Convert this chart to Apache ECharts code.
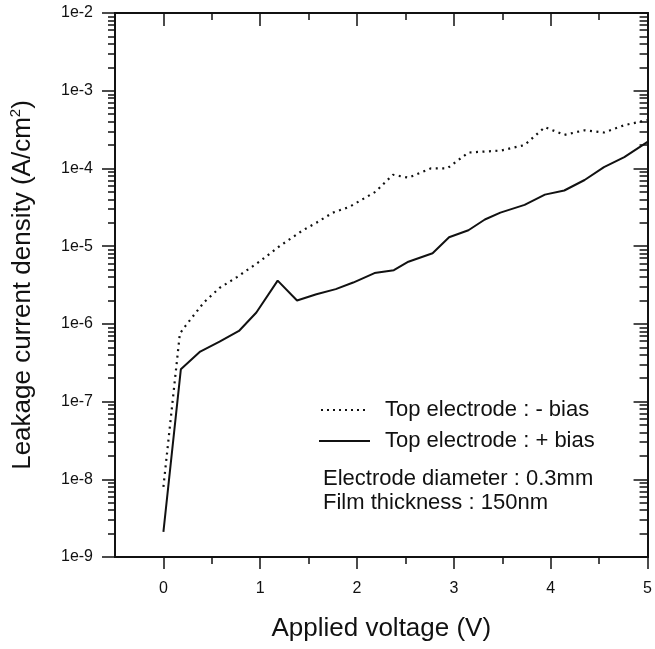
<!DOCTYPE html>
<html>
<head>
<meta charset="utf-8">
<script src="https://cdn.jsdelivr.net/npm/echarts@6/dist/echarts.min.js"></script>
<style>html,body{margin:0;padding:0;background:#fff;}#c{width:655px;height:649px;}</style>
</head>
<body>
<div id="c"></div>
<script>
// ---- data ----
var voltsMinus = [0, 0.17, 0.23, 0.42, 0.58, 0.76, 0.99, 1.2, 1.44, 1.58, 1.75, 1.92, 2.19, 2.37, 2.53, 2.76, 2.93, 3.15, 3.49, 3.73, 3.94, 4.14, 4.35, 4.55, 4.76, 5.0];
var jMinus = [8e-9, 7.5e-7, 9.5e-7, 1.9e-6, 2.9e-6, 4.0e-6, 6.3e-6, 1.0e-5, 1.6e-5, 2.0e-5, 2.7e-5, 3.2e-5, 5.0e-5, 8.3e-5, 7.6e-5, 1.0e-4, 1.0e-4, 1.6e-4, 1.7e-4, 2.0e-4, 3.4e-4, 2.7e-4, 3.1e-4, 2.9e-4, 3.6e-4, 4.2e-4];
var voltsPlus = [0, 0.18, 0.38, 0.58, 0.78, 0.96, 1.18, 1.38, 1.58, 1.78, 1.96, 2.18, 2.38, 2.53, 2.78, 2.95, 3.15, 3.32, 3.48, 3.73, 3.94, 4.14, 4.35, 4.55, 4.76, 5.0];
var jPlus = [2.1e-9, 2.6e-7, 4.4e-7, 5.9e-7, 8.1e-7, 1.4e-6, 3.6e-6, 2.0e-6, 2.4e-6, 2.8e-6, 3.4e-6, 4.5e-6, 4.9e-6, 6.3e-6, 8.1e-6, 1.3e-5, 1.6e-5, 2.2e-5, 2.7e-5, 3.4e-5, 4.6e-5, 5.2e-5, 7.1e-5, 1.04e-4, 1.4e-4, 2.2e-4];

var seriesNames = ['Top electrode : - bias', 'Top electrode : + bias'];
var noteLines = ['Electrode diameter : 0.3mm', 'Film thickness : 150nm'];

var xMajorTicks = [0, 1, 2, 3, 4, 5];
var xMinorTicks = [0.5, 1.5, 2.5, 3.5, 4.5];
var yTickValues = [1e-9, 1e-8, 1e-7, 1e-6, 1e-5, 1e-4, 1e-3, 1e-2];
var yTickLabels = ['1e-9', '1e-8', '1e-7', '1e-6', '1e-5', '1e-4', '1e-3', '1e-2'];
var yMinorTicks = [];
for (var d = -9; d < -2; d++) { for (var m = 2; m <= 9; m++) { yMinorTicks.push(m * Math.pow(10, d)); } }

var FONT = 'Liberation Sans, Arial, sans-serif';
var INK = '#111';

function zip(xs, ys) { return xs.map(function (x, i) { return [x, ys[i]]; }); }

var chart = echarts.init(document.getElementById('c'), null, { renderer: 'canvas' });

function xAx(pos, ticks, len, inside, showLabel) {
  return {
    type: 'value', position: pos, min: -0.5, max: 5,
    axisLine: { show: true, onZero: false, lineStyle: { color: INK, width: 1.8 } },
    axisTick: { show: true, inside: inside, length: len, customValues: ticks, lineStyle: { color: INK, width: 1.5 } },
    axisLabel: showLabel ? { show: true, customValues: xMajorTicks, margin: 24, fontSize: 16, color: INK, fontFamily: FONT } : { show: false },
    splitLine: { show: false }
  };
}
function yAx(pos, ticks, len, inside, showLabel) {
  return {
    type: 'log', logBase: 10, position: pos, min: 1e-9, max: 1e-2,
    axisLine: { show: true, onZero: false, lineStyle: { color: INK, width: 1.8 } },
    axisTick: { show: true, inside: inside, length: len, customValues: ticks, lineStyle: { color: INK, width: 1.5 } },
    axisLabel: showLabel ? {
      show: true, customValues: yTickValues, margin: 22, fontSize: 16, color: INK, fontFamily: FONT,
      formatter: function (v) { return yTickLabels[Math.round(Math.log10(v)) + 9]; }
    } : { show: false },
    splitLine: { show: false }
  };
}

var xMain = xAx('bottom', xMajorTicks, 12, false, true);
xMain.name = 'Applied voltage (V)';
xMain.nameLocation = 'middle';
xMain.nameGap = 59;
xMain.nameTextStyle = { fontSize: 26, color: INK, fontFamily: FONT };

var yMain = yAx('left', yTickValues, 13, false, true);
yMain.name = '{t|Leakage current density (A/cm}{s|2}{t|)}';
yMain.nameLocation = 'middle';
yMain.nameRotate = 90;
yMain.nameGap = 78;
yMain.nameTextStyle = {
  color: INK, fontFamily: FONT,
  rich: {
    t: { fontSize: 26, color: INK, fontFamily: FONT, lineHeight: 29 },
    s: { fontSize: 15, color: INK, fontFamily: FONT, verticalAlign: 'top', lineHeight: 29 }
  }
};

var option = {
  backgroundColor: '#fff',
  animation: false,
  grid: { left: 114, right: 5, top: 13, bottom: 92, containLabel: false },
  xAxis: [
    xMain,
    xAx('bottom', xMinorTicks, 7, false, false),
    xAx('top', xMajorTicks, 13, true, false),
    xAx('top', xMinorTicks, 7, true, false)
  ],
  yAxis: [
    yMain,
    yAx('left', yMinorTicks, 7, false, false),
    yAx('right', yTickValues, 14, true, false),
    yAx('right', yMinorTicks, 8, true, false)
  ],
  series: [
    {
      name: seriesNames[0], type: 'line', xAxisIndex: 0, yAxisIndex: 0,
      data: zip(voltsMinus, jMinus), showSymbol: false, smooth: false,
      lineStyle: { color: INK, width: 2.2, type: [2, 4.5], cap: 'butt' }
    },
    {
      name: seriesNames[1], type: 'line', xAxisIndex: 0, yAxisIndex: 0,
      data: zip(voltsPlus, jPlus), showSymbol: false, smooth: false,
      lineStyle: { color: INK, width: 2, type: 'solid' }
    }
  ],
  graphic: [
    { type: 'line', shape: { x1: 321, y1: 410, x2: 369, y2: 410 }, style: { stroke: INK, lineWidth: 2, lineDash: [2, 4] } },
    { type: 'line', shape: { x1: 319, y1: 441, x2: 370, y2: 441 }, style: { stroke: INK, lineWidth: 2 } },
    { type: 'text', x: 385, y: 410, style: { text: seriesNames[0], font: '22px ' + FONT, fill: INK, verticalAlign: 'middle' } },
    { type: 'text', x: 385, y: 441, style: { text: seriesNames[1], font: '22px ' + FONT, fill: INK, verticalAlign: 'middle' } },
    { type: 'text', x: 323, y: 479, style: { text: noteLines[0], font: '22px ' + FONT, fill: INK, verticalAlign: 'middle' } },
    { type: 'text', x: 323, y: 503, style: { text: noteLines[1], font: '22px ' + FONT, fill: INK, verticalAlign: 'middle' } }
  ]
};
chart.setOption(option);
</script>
</body>
</html>
